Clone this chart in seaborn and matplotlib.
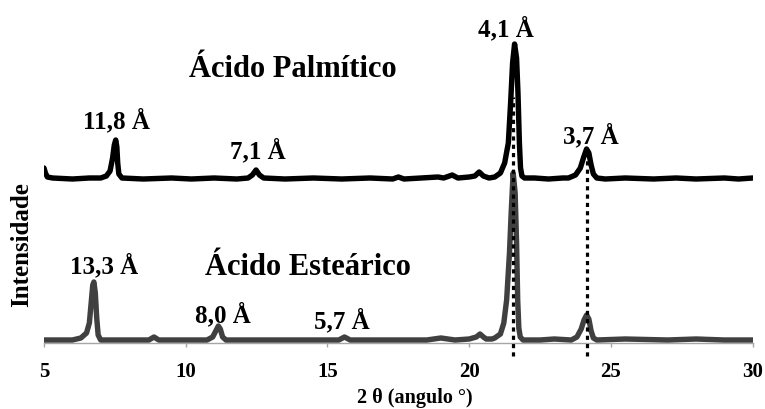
import matplotlib
matplotlib.use("Agg")
import matplotlib.pyplot as plt
import seaborn as sns
import pandas as pd

# ---------------- data ----------------
# Ácido Palmítico pattern: 2θ (deg) and intensity (arbitrary units)
palm_x = [5.0, 5.05, 5.12, 5.3, 6.0, 6.6, 7.0, 7.2, 7.33, 7.42, 7.48, 7.53, 7.57, 7.6,
          7.64, 7.75, 8.5, 9.5, 10.2, 11.0, 11.8, 12.2, 12.35, 12.48, 12.6, 12.75, 13.5,
          14.5, 15.5, 16.5, 17.3, 17.5, 17.7, 18.3, 18.9, 19.1, 19.4, 19.6, 20.0, 20.2,
          20.35, 20.5, 20.7, 20.9, 21.1, 21.25, 21.38, 21.46, 21.53, 21.6, 21.67, 21.72,
          21.77, 21.81, 21.86, 21.95, 22.3, 22.8, 23.3, 23.5, 23.75, 23.92, 24.04, 24.14,
          24.22, 24.3, 24.38, 24.5, 24.8, 25.5, 26.5, 27.3, 28.0, 29.0, 29.5, 30.0]
palm_y = [175, 170, 166, 165, 164, 165, 165, 167, 172, 185, 198, 203, 196, 180,
          169, 165, 164, 165, 164, 165, 164, 165, 168, 173, 168, 165, 164,
          165, 164, 165, 164, 166, 164, 165, 166, 165, 168, 165, 166, 167,
          171, 167, 165, 166, 170, 180, 200, 240, 280, 299, 285, 250,
          200, 175, 167, 165, 165, 164, 165, 165, 168, 175, 186, 194,
          190, 178, 169, 165, 164, 165, 164, 165, 164, 165, 164, 165]

# Ácido Esteárico pattern
est_x = [5.0, 5.5, 6.0, 6.3, 6.5, 6.6, 6.67, 6.72, 6.76, 6.81, 6.86, 6.91, 7.0, 7.8,
         8.7, 8.88, 9.05, 10.0, 10.75, 10.95, 11.06, 11.15, 11.22, 11.3, 11.42, 12.5,
         14.0, 15.4, 15.6, 15.8, 17.0, 18.5, 19.0, 19.5, 20.0, 20.25, 20.38, 20.5, 20.6,
         20.8, 20.9, 21.1, 21.22, 21.32, 21.42, 21.48, 21.55, 21.62, 21.67, 21.71, 21.75,
         21.8, 21.9, 22.5, 23.0, 23.6, 23.8, 23.95, 24.05, 24.14, 24.22, 24.3, 24.38,
         24.5, 25.5, 27.0, 28.0, 29.0, 30.0]
est_y = [3, 3, 3, 5, 10, 20, 42, 58, 61, 50, 25, 8, 3, 3,
         3, 6, 3, 3, 3, 6, 12, 17, 14, 6, 3, 3,
         3, 3, 6, 3, 3, 3, 5, 3, 4, 6, 9, 6, 4,
         4, 5, 9, 20, 43, 90, 130, 170, 150, 100, 43, 15,
         6, 3, 3, 4, 3, 6, 14, 23, 28, 24, 12, 5,
         3, 4, 3, 4, 3, 3]

# reflections marked with dotted lines (2θ) and their extent
ref_x = [21.55, 24.14]
ref_ymin = [-13, -13]
ref_ymax = [246, 183]

# d-spacing labels
lab_text = ["11,8 Å", "7,1 Å", "4,1 Å", "3,7 Å", "13,3 Å", "8,0 Å", "5,7 Å"]
lab_x = [7.57, 12.55, 21.29, 24.29, 7.12, 11.31, 15.5]
lab_y = [215, 185, 307, 200, 70, 21, 15]

series_names = ["Ácido Palmítico", "Ácido Esteárico"]
series_x = [13.78, 14.31]
series_y = [266, 68]

xticks = [5, 10, 15, 20, 25, 30]

# ---------------- drawing ----------------
sns.set_theme(style="white")
plt.rcParams["font.family"] = ["Liberation Serif", "DejaVu Serif"]
plt.rcParams["font.weight"] = "bold"

fig = plt.figure(figsize=(7.65, 4.09), dpi=100)
ax = fig.add_axes([44 / 765, 66 / 409, 708.7 / 765, 313 / 409])

df_e = pd.DataFrame({"x": est_x, "y": est_y})
df_p = pd.DataFrame({"x": palm_x, "y": palm_y})
sns.lineplot(data=df_e, x="x", y="y", sort=False, estimator=None, ax=ax,
             color="#404040", lw=3.9, zorder=2, solid_capstyle="round",
             solid_joinstyle="round")
sns.lineplot(data=df_p, x="x", y="y", sort=False, estimator=None, ax=ax,
             color="#000000", lw=3.9, zorder=3, solid_capstyle="round",
             solid_joinstyle="round")

ax.vlines(ref_x, ref_ymin, ref_ymax, colors="black", linestyles=(0, (1.3, 1.3)),
          lw=2.3, zorder=4, clip_on=False)

for t, x, y in zip(lab_text, lab_x, lab_y):
    ax.text(x, y, t, ha="center", va="baseline", fontsize=18, fontweight="bold",
            color="black")
for t, x, y in zip(series_names, series_x, series_y):
    ax.text(x, y, t, ha="center", va="baseline", fontsize=22, fontweight="bold",
            color="black")

ax.set_xlim(5, 30)
ax.set_ylim(0, 313)
ax.set_xticks(xticks)
ax.set_xticklabels([str(v) for v in xticks], fontsize=15, fontweight="bold")
ax.set_yticks([])
for s in ["top", "right", "left"]:
    ax.spines[s].set_visible(False)
ax.spines["bottom"].set_color("#a6a6a6")
ax.spines["bottom"].set_linewidth(1.0)
ax.spines["bottom"].set_zorder(1)
ax.tick_params(axis="x", direction="out", length=3, width=1, color="#a6a6a6",
               pad=11, bottom=True, labelcolor="black")

ax.set_xlabel("2 θ (angulo °)", fontsize=14.5, fontweight="bold", color="black")
ax.xaxis.set_label_coords((415 - 44) / 708.7, (343 - 403) / 313)
ax.xaxis.label.set_verticalalignment("baseline")

ax.set_ylabel("Intensidade", fontsize=18, fontweight="bold", color="black")
ax.yaxis.set_label_coords((33 - 44) / 708.7, (343 - 245) / 313)

ax.patch.set_alpha(0)
fig.savefig("out.png", dpi=100, facecolor="white")
